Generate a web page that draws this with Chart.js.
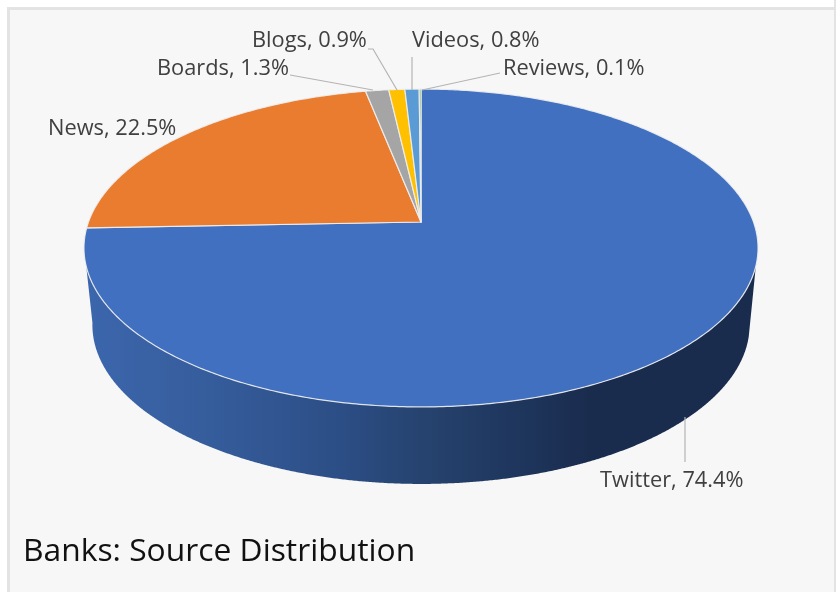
<!DOCTYPE html>
<html><head><meta charset="utf-8">
<style>
html,body{margin:0;padding:0;background:#fff;overflow:hidden}
#frame{position:absolute;left:7px;top:7px;width:900px;height:700px;background:#f7f7f7;border:3px solid #e3e3e3;box-sizing:border-box}
#mask{position:absolute;left:834px;top:0;width:2px;height:592px;background:#e3e3e3}
#wrap{position:absolute;left:0;top:0;width:836px;height:592px}
</style>
<script src="https://cdn.jsdelivr.net/npm/chart.js@4/dist/chart.umd.js"></script>
</head><body>
<div id="frame"></div><div id="mask"></div>
<div id="wrap"><canvas id="c" width="836" height="592"></canvas></div>
<script>
const categories = ['Twitter','News','Boards','Blogs','Videos','Reviews'];
const shares = [74.4,22.5,1.3,0.9,0.8,0.1];
const sliceColors = ['#4170c0','#ea7c30','#a5a5a5','#ffc000','#5b9bd5','#70ad47'];
const chartTitle = 'Banks: Source Distribution';

// label placement [left x, centre y] and leader polylines
const labelAt = {Twitter:[600,481],News:[48,129],Boards:[157,69],Blogs:[252,41],Videos:[412,41],Reviews:[503,69]};
const leaders = {
  Twitter:[[685,417],[685,462]],
  Boards:[[290,75],[373,90]],
  Blogs:[[368,49],[373,49],[397,90]],
  Videos:[[412,57],[412,90]],
  Reviews:[[500,73],[422,90]]
};

// Perspective projection of the unit disc on to the tilted top of the pie
const P = {cx:421, cy:222, a:332.5, b:154.7, p:-0.1635};
function project(u,v,scale=1,dy=0){
  const w = 1+P.p*v;
  return [P.cx+scale*P.a*u/w, P.cy+dy+P.b*v/w];
}
function rim(angle,scale,dy){return project(Math.cos(angle),Math.sin(angle),scale,dy);}

const ArcProto = Chart.registry.getElement('arc').prototype;
ArcProto.draw = function(ctx){
  const {startAngle,endAngle} = this.getProps(['startAngle','endAngle'],true);
  const o = this.options;
  ctx.save();
  ctx.beginPath();
  ctx.moveTo(...project(0,0));
  const n = Math.max(2,Math.ceil((endAngle-startAngle)/0.01));
  for(let i=0;i<=n;i++){ctx.lineTo(...rim(startAngle+(endAngle-startAngle)*i/n));}
  ctx.closePath();
  ctx.fillStyle = o.backgroundColor;
  ctx.fill();
  ctx.lineJoin='round';
  ctx.lineWidth = o.borderWidth;
  ctx.strokeStyle = o.borderColor;
  ctx.stroke();
  ctx.restore();
};

const pie3d = {
  id:'pie3d',
  beforeDatasetsDraw(chart){
    const ctx = chart.ctx;
    const deg = Math.PI/180, depth = 77, bottomScale = 0.975;
    ctx.save();
    ctx.beginPath();
    for(let t=15.8;t<=164.2;t+=0.25){ctx.lineTo(...rim(t*deg));}
    for(let t=171.4;t>=13.2;t-=0.25){ctx.lineTo(...rim(t*deg,bottomScale,depth));}
    ctx.closePath();
    const g = ctx.createLinearGradient(85,0,758,0);
    g.addColorStop(0,'#3c66ad');
    g.addColorStop(0.15,'#375f9f');
    g.addColorStop(0.38,'#2c4e86');
    g.addColorStop(0.5,'#26436f');
    g.addColorStop(0.65,'#1e355c');
    g.addColorStop(0.75,'#1a2c4e');
    g.addColorStop(1,'#1a2c4e');
    ctx.fillStyle = g;
    ctx.fill();
    ctx.restore();
  },
  afterDatasetsDraw(chart){
    const ctx = chart.ctx;
    ctx.save();
    ctx.strokeStyle='#b4b4b4';
    ctx.lineWidth=1.2;
    Object.values(leaders).forEach(pts=>{
      ctx.beginPath();
      pts.forEach(p=>ctx.lineTo(p[0],p[1]));
      ctx.stroke();
    });
    ctx.fillStyle='#404040';
    ctx.font='21.8px "Open Sans"';
    ctx.textBaseline='middle';
    ctx.textAlign='left';
    categories.forEach((c,i)=>{
      const at = labelAt[c];
      ctx.fillText(c+', '+shares[i].toFixed(1)+'%',at[0],at[1]);
    });
    ctx.restore();
  }
};

new Chart(document.getElementById('c'),{
  type:'pie',
  data:{labels:categories,datasets:[{data:shares,backgroundColor:sliceColors,borderColor:'rgba(240,240,240,0.9)',borderWidth:1.2}]},
  plugins:[pie3d],
  options:{
    responsive:false,
    animation:false,
    layout:{padding:{left:23,right:10,top:10,bottom:21}},
    plugins:{
      legend:{display:false},
      tooltip:{enabled:false},
      title:{display:true,text:chartTitle,position:'bottom',align:'start',color:'#111',
        font:{family:'"Open Sans"',size:31.8,weight:'normal'},padding:0}
    }
  }
});
</script>
</body></html>
